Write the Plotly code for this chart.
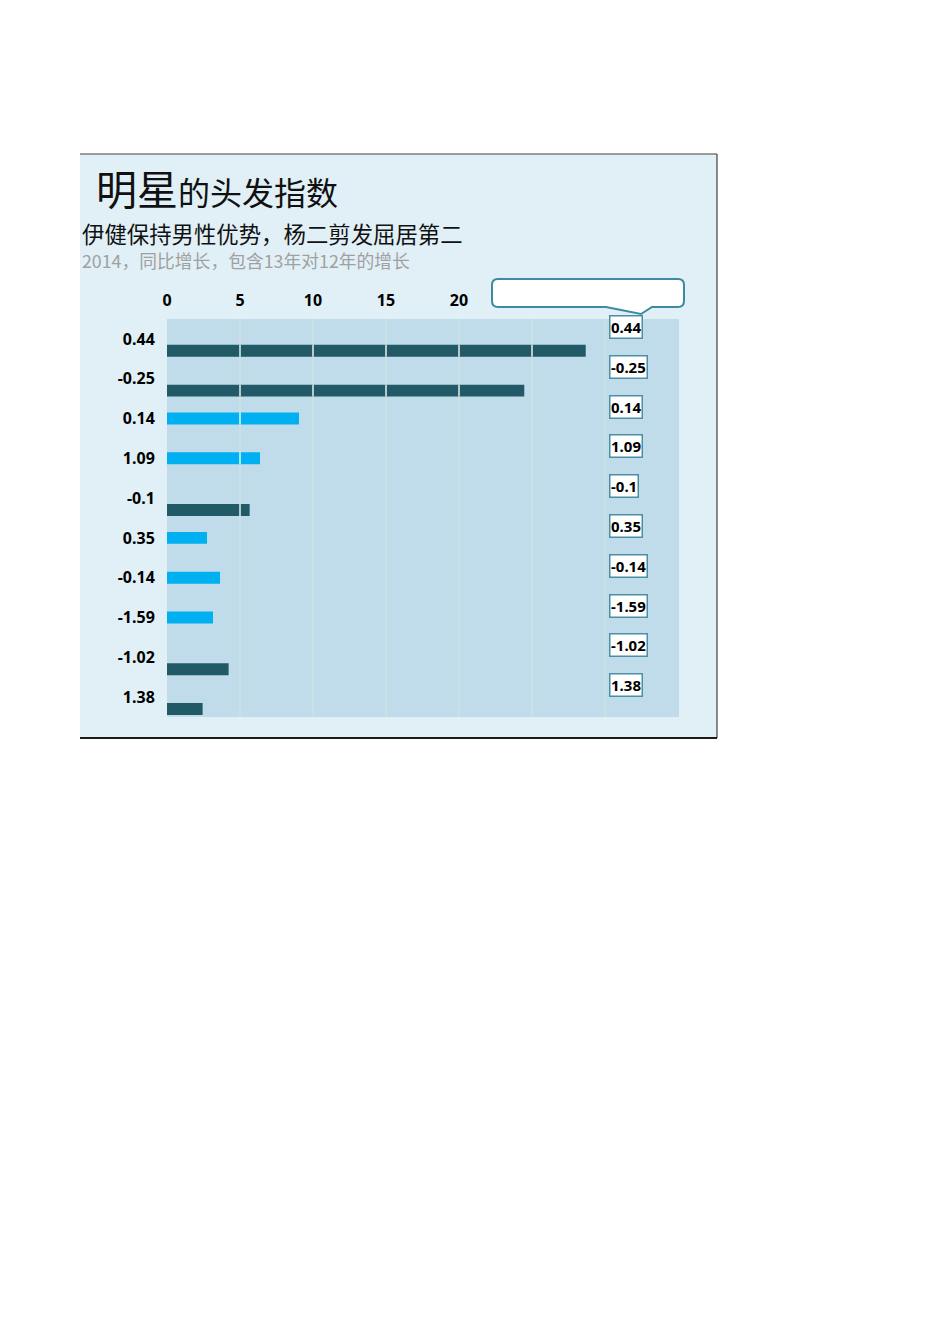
import plotly.graph_objects as go

# ---- data ----
categories = ["0.44", "-0.25", "0.14", "1.09", "-0.1", "0.35", "-0.14", "-1.59", "-1.02", "1.38"]
dark_values = [28.68, 24.47, None, None, 5.66, None, None, None, 4.22, 2.44]
light_values = [None, None, 9.04, 6.37, None, 2.74, 3.63, 3.15, None, None]
x_ticks = [0, 5, 10, 15, 20, 25, 30, 35]
x_tick_labels = ["0", "5", "10", "15", "20", "", "", ""]
title_big = "明星"
title_rest = "的头发指数"
subtitle = "伊健保持男性优势，杨二剪发屈居第二"
note = "2014，同比增长，包含13年对12年的增长"

# ---- geometry helpers (screen pixel -> paper) ----
W, H = 950, 1344
OFF = 8  # page body margin
L, R, T, B = 167, 679, 319, 717  # plot area in screen pixels
def px(x):
    return (x - L) / (R - L)
def py(y):
    return (B - y) / (B - T)

DARK = "#215967"
LIGHT = "#00B0F0"
BAR_W = 0.3
LIGHT_OFF = -0.15
DARK_OFF = 0.15

fig = go.Figure()
fig.add_trace(go.Bar(y=categories, x=light_values, orientation="h", width=BAR_W,
                     offset=LIGHT_OFF, marker=dict(color=LIGHT, line=dict(width=0)),
                     hoverinfo="x+y", showlegend=False))
fig.add_trace(go.Bar(y=categories, x=dark_values, orientation="h", width=BAR_W,
                     offset=DARK_OFF, marker=dict(color=DARK, line=dict(width=0)),
                     hoverinfo="x+y", showlegend=False))

shapes = []
# panel background and plot area
shapes.append(dict(type="rect", xref="paper", yref="paper", x0=px(80), x1=px(717),
                   y0=py(738), y1=py(154), fillcolor="#E1F0F6", line=dict(width=0), layer="below"))
shapes.append(dict(type="rect", xref="paper", yref="paper", x0=0, x1=1, y0=0, y1=1,
                   fillcolor="#C0DCEA", line=dict(width=0), layer="below"))
# panel borders
shapes.append(dict(type="line", xref="paper", yref="paper", x0=px(80), x1=px(717), y0=py(154), y1=py(154),
                   line=dict(color="#404040", width=1.2)))
shapes.append(dict(type="line", xref="paper", yref="paper", x0=px(717), x1=px(717), y0=py(154), y1=py(738),
                   line=dict(color="#404040", width=1.2)))
shapes.append(dict(type="line", xref="paper", yref="paper", x0=px(80), x1=px(717), y0=py(738), y1=py(738),
                   line=dict(color="#1a1a1a", width=2)))

# white grid segments over bars
for vals, off in ((light_values, LIGHT_OFF), (dark_values, DARK_OFF)):
    for i, v in enumerate(vals):
        if v is None:
            continue
        for t in x_ticks:
            if 0 < t < v:
                shapes.append(dict(type="line", xref="x", yref="y", x0=t, x1=t,
                                   y0=i + off, y1=i + off + BAR_W,
                                   line=dict(color="rgba(255,255,255,0.9)", width=1.5), layer="above"))

# callout box
r = 6
x0c, x1c, y0c, y1c = 492, 684, 279, 307
def P(x, y):
    return f"{px(x):.5f},{py(y):.5f}"
path = (f"M {P(x0c + r, y0c)} L {P(x1c - r, y0c)} Q {P(x1c, y0c)} {P(x1c, y0c + r)} "
        f"L {P(x1c, y1c - r)} Q {P(x1c, y1c)} {P(x1c - r, y1c)} "
        f"L {P(652, y1c)} L {P(641, 314)} L {P(606, y1c)} "
        f"L {P(x0c + r, y1c)} Q {P(x0c, y1c)} {P(x0c, y1c - r)} "
        f"L {P(x0c, y0c + r)} Q {P(x0c, y0c)} {P(x0c + r, y0c)} Z")
shapes.append(dict(type="path", xref="paper", yref="paper", path=path,
                   fillcolor="white", line=dict(color="#3E8A9E", width=2), layer="above"))

annotations = []
annotations.append(dict(xref="paper", yref="paper", x=px(94), y=py(187), xanchor="left", yanchor="middle",
                        showarrow=False,
                        text=f"<span style='font-size:41px'>{title_big}</span>{title_rest}",
                        font=dict(family="Noto Sans CJK SC", size=32, color="#111111")))
annotations.append(dict(xref="paper", yref="paper", x=px(80), y=py(244.5), xanchor="left", yanchor="middle",
                        align="left", showarrow=False,
                        text=(f"<span style='font-size:22.4px;color:#111111'>{subtitle}</span><br>"
                              f"<span style='font-size:17.8px;color:#A0A0A0'>{note}</span>"),
                        font=dict(family="Noto Sans CJK SC", size=19.2, color="#111111")))
# right side label boxes (category axis -> use index position)
for i, c in enumerate(categories):
    annotations.append(dict(xref="x", yref="y", x=30.3, y=i, xanchor="left", yanchor="middle",
                            yshift=12, showarrow=False, text=f"<b>{c}</b>",
                            font=dict(family="Noto Sans", size=15, color="black"),
                            bgcolor="white", bordercolor="#4A8FA3", borderwidth=1.5, borderpad=0.5))

fig.update_layout(
    width=W, height=H,
    margin=dict(l=L - OFF, r=W - (R - OFF), t=T - OFF, b=H - (B - OFF), pad=0),
    paper_bgcolor="white",
    plot_bgcolor="rgba(0,0,0,0)",
    barmode="overlay",
    shapes=shapes,
    annotations=annotations,
    xaxis=dict(side="top", range=[0, (R - L) / 14.6], tickvals=x_ticks, ticktext=x_tick_labels,
               showgrid=True, gridcolor="#C7E1E6", gridwidth=2,
               zeroline=False, showline=False, ticks="outside", ticklen=6,
               tickcolor="rgba(0,0,0,0)",
               tickfont=dict(family="Noto Sans", size=16, color="black", weight="bold")),
    yaxis=dict(type="category", range=[9.5, -0.5], showgrid=False, zeroline=False,
               showline=False, ticks="outside", ticklen=8, tickcolor="rgba(0,0,0,0)",
               tickfont=dict(family="Noto Sans", size=16, color="black", weight="bold")),
)

fig.write_html("out.html")
